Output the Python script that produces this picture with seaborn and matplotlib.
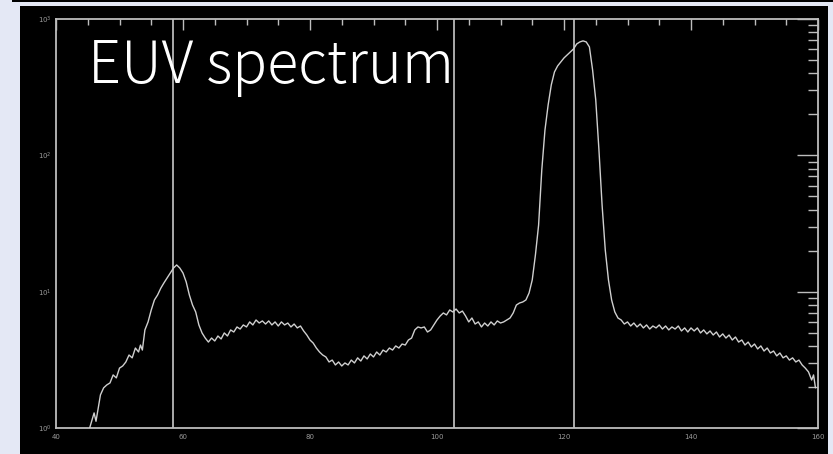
import matplotlib
matplotlib.use("Agg")
import matplotlib.pyplot as plt
from matplotlib.patches import Rectangle
from matplotlib.ticker import FixedLocator, LogLocator, NullFormatter
import seaborn as sns
import pandas as pd

wavelength = [45.3, 46.0, 46.3, 47.0, 47.5, 48.0, 48.5, 49.0, 49.5, 50.0, 50.5, 51.0, 51.5, 52.0,
              52.5, 53.0, 53.3, 53.6, 54.0, 54.5, 55.0, 55.5, 56.0, 56.5, 57.0, 57.5, 58.0, 58.5,
              59.0, 59.5, 60.0, 60.5, 61.0, 61.5, 62.0, 62.5, 63.0, 63.5, 64.0, 64.5, 65.0, 65.5,
              66.0, 66.5, 67.0, 67.5, 68.0, 68.5, 69.0, 69.5, 70.0, 70.5, 71.0, 71.5, 72.0, 72.5,
              73.0, 73.5, 74.0, 74.5, 75.0, 75.5, 76.0, 76.5, 77.0, 77.5, 78.0, 78.5, 79.0, 79.5,
              80.0, 80.5, 81.0, 81.5, 82.0, 82.5, 83.0, 83.5, 84.0, 84.5, 85.0, 85.5, 86.0, 86.5,
              87.0, 87.5, 88.0, 88.5, 89.0, 89.5, 90.0, 90.5, 91.0, 91.5, 92.0, 92.5, 93.0, 93.5,
              94.0, 94.5, 95.0, 95.5, 96.0, 96.5, 97.0, 97.5, 98.0, 98.5, 99.0, 99.5, 100.0, 100.5,
              101.0, 101.5, 102.0, 102.5, 103.0, 103.5, 104.0, 104.5, 105.0, 105.5, 106.0, 106.5,
              107.0, 107.5, 108.0, 108.5, 109.0, 109.5, 110.0, 110.5, 111.0, 111.5, 112.0, 112.5,
              113.0, 113.5, 114.0, 114.5, 115.0, 115.5, 116.0, 116.5, 117.0, 117.5, 118.0, 118.5,
              119.0, 119.5, 120.0, 120.5, 121.0, 121.5, 122.0, 122.5, 123.0, 123.5, 124.0, 124.5,
              125.0, 125.5, 126.0, 126.5, 127.0, 127.5, 128.0, 128.5, 129.0, 129.5, 130.0, 130.5,
              131.0, 131.5, 132.0, 132.5, 133.0, 133.5, 134.0, 134.5, 135.0, 135.5, 136.0, 136.5,
              137.0, 137.5, 138.0, 138.5, 139.0, 139.5, 140.0, 140.5, 141.0, 141.5, 142.0, 142.5,
              143.0, 143.5, 144.0, 144.5, 145.0, 145.5, 146.0, 146.5, 147.0, 147.5, 148.0, 148.5,
              149.0, 149.5, 150.0, 150.5, 151.0, 151.5, 152.0, 152.5, 153.0, 153.5, 154.0, 154.5,
              155.0, 155.5, 156.0, 156.5, 157.0, 157.5, 158.0, 158.5, 159.0, 159.3, 159.6]

flux = [1.0, 1.29, 1.12, 1.75, 1.97, 2.07, 2.14, 2.45, 2.33, 2.75, 2.85, 3.05, 3.43, 3.27,
        3.86, 3.61, 4.06, 3.73, 5.24, 6.0, 7.34, 8.69, 9.46, 10.6, 11.6, 12.6, 13.7, 14.9,
        15.7, 14.9, 13.7, 11.8, 9.46, 7.98, 7.10, 5.70, 4.98, 4.57, 4.27, 4.57, 4.35, 4.73,
        4.50, 4.98, 4.73, 5.24, 5.06, 5.51, 5.32, 5.70, 5.51, 6.0, 5.70, 6.2, 5.89, 6.1,
        5.79, 6.1, 5.70, 6.0, 5.6, 6.0, 5.7, 5.89, 5.51, 5.79, 5.42, 5.6, 5.15, 4.81,
        4.42, 4.2, 3.86, 3.61, 3.43, 3.32, 3.05, 3.15, 2.90, 3.05, 2.85, 3.0, 2.9, 3.15,
        3.0, 3.27, 3.1, 3.38, 3.21, 3.49, 3.32, 3.61, 3.43, 3.73, 3.61, 3.86, 3.73, 4.0,
        3.86, 4.13, 4.06, 4.42, 4.57, 5.24, 5.51, 5.42, 5.51, 5.06, 5.24, 5.7, 6.2, 6.63,
        6.98, 6.75, 7.34, 7.1, 7.46, 6.98, 7.21, 6.63, 6.0, 6.41, 5.79, 6.0,
        5.51, 5.89, 5.6, 6.0, 5.7, 6.1, 5.89, 6.0, 6.2, 6.41, 6.98, 7.98,
        8.26, 8.4, 8.69, 9.78, 12.2, 18.6, 30.8, 78.0, 153.0, 234.0, 329.0, 409.0,
        453.0, 484.0, 518.0, 545.0, 574.0, 603.0, 656.0, 679.0, 691.0, 679.0, 624.0, 424.0,
        255.0, 110.0, 43.0, 20.2, 12.2, 8.69, 7.1, 6.41, 6.2, 5.79, 6.0, 5.6,
        5.89, 5.51, 5.79, 5.42, 5.7, 5.32, 5.6, 5.42, 5.7, 5.32, 5.6, 5.24,
        5.51, 5.32, 5.6, 5.15, 5.42, 5.06, 5.42, 5.15, 5.42, 4.98, 5.24, 4.9,
        5.15, 4.81, 5.06, 4.65, 4.9, 4.57, 4.81, 4.42, 4.65, 4.27, 4.42, 4.06,
        4.27, 3.93, 4.13, 3.8, 4.0, 3.67, 3.86, 3.55, 3.67, 3.38, 3.55, 3.27,
        3.38, 3.15, 3.27, 3.05, 3.15, 2.9, 2.75, 2.58, 2.25, 2.45, 1.97]

line_positions = [58.4, 102.6, 121.6]
x_major_ticks = [40, 60, 80, 100, 120, 140, 160]
x_tick_labels = ["40", "60", "80", "100", "120", "140", "160"]
y_major_ticks = [1, 10, 100, 1000]
y_tick_labels = ["10$^{0}$", "10$^{1}$", "10$^{2}$", "10$^{3}$"]
title_text = "EUV spectrum"

df = pd.DataFrame({"wavelength": wavelength, "flux": flux})

sns.set_style("dark")
W, H = 833, 454
fig = plt.figure(figsize=(W / 100, H / 100), dpi=100)
fig.patch.set_facecolor("#e4e8f5")
fig.patches.append(Rectangle((20 / W, 0), 808 / W, 448 / H, transform=fig.transFigure,
                             facecolor="black", edgecolor="none", zorder=-5))
fig.patches.append(Rectangle((12 / W, 1 - 2 / H), 1, 2 / H, transform=fig.transFigure,
                             facecolor="black", edgecolor="none", zorder=-5))

ax = fig.add_axes([56 / W, 1 - 428 / H, (818 - 56) / W, (428 - 19) / H])
ax.set_zorder(2)
ax.set_facecolor("black")

axis_col = "#bdbdbd"
for x in line_positions:
    ax.axvline(x, color="#b8b8b8", linewidth=1.3, zorder=2)

sns.lineplot(data=df, x="wavelength", y="flux", ax=ax, color="#cfcfcf", linewidth=1.0,
             estimator=None, sort=False, zorder=3)

ax.set_yscale("log")
ax.set_xlim(40, 160)
ax.set_ylim(1, 1000)
ax.set_xlabel("")
ax.set_ylabel("")
ax.grid(False)

for s in ax.spines.values():
    s.set_visible(True)
    s.set_color(axis_col)
    s.set_linewidth(1.3)

ax.set_xticks(x_major_ticks)
ax.set_xticklabels(x_tick_labels)
ax.xaxis.set_minor_locator(FixedLocator(list(range(40, 161, 5))))
ax.set_yticks(y_major_ticks)
ax.set_yticklabels(y_tick_labels)
ax.yaxis.set_minor_locator(LogLocator(base=10, subs=range(2, 10)))
ax.yaxis.set_minor_formatter(NullFormatter())

ax.tick_params(axis="both", which="both", direction="in", colors=axis_col,
               top=True, right=True, labelsize=5, width=1.0)
ax.tick_params(axis="x", which="major", length=8, pad=4)
ax.tick_params(axis="x", which="minor", length=4)
ax.tick_params(axis="y", which="major", length=15, pad=3)
ax.tick_params(axis="y", which="minor", length=7)
for lab in ax.get_xticklabels() + ax.get_yticklabels():
    lab.set_color("#9a9a9a")

fig.text(88 / W, 1 - 83 / H, title_text, color="white", fontsize=41.5,
         family=["Noto Sans CJK JP", "DejaVu Sans"],
         fontweight="light", ha="left", va="baseline", zorder=10)

fig.savefig("out.png", dpi=100, facecolor=fig.get_facecolor())
